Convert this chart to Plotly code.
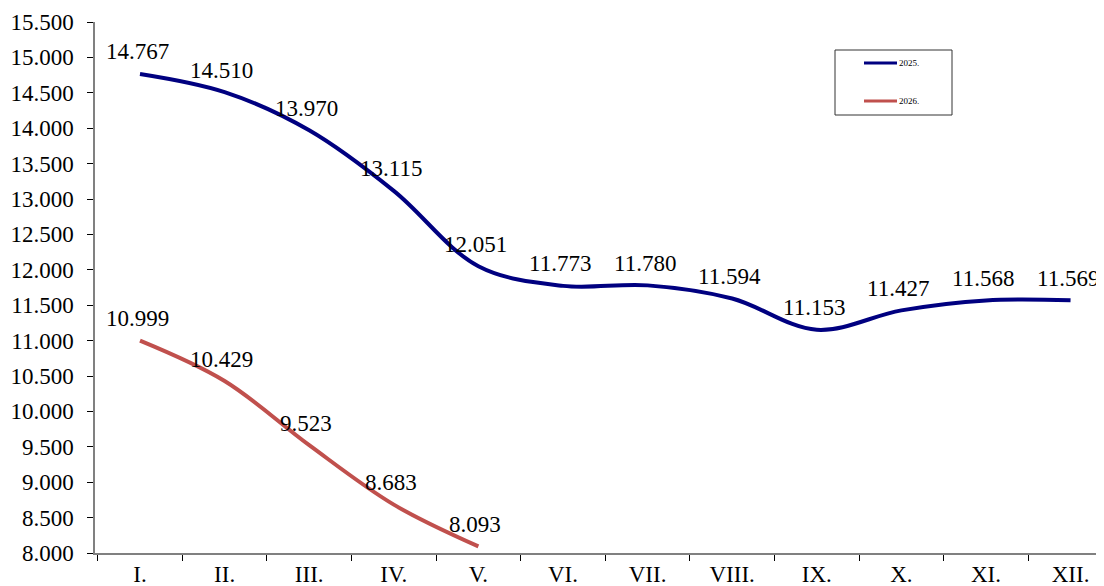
import plotly.graph_objects as go

months = ["I.", "II.", "III.", "IV.", "V.", "VI.", "VII.", "VIII.", "IX.", "X.", "XI.", "XII."]
y2025 = [14767, 14510, 13970, 13115, 12051, 11773, 11780, 11594, 11153, 11427, 11568, 11569]
y2026 = [10999, 10429, 9523, 8683, 8093]
series_names = ["2025.", "2026."]
series_colors = ["#000080", "#C0504D"]

font_family = "Liberation Serif, Times New Roman, serif"
FS = 23

W, H = 1104, 586
OFF = 8  # page body margin offset in the screenshot
ML, MR, MT, MB = 87, 0, 14, 41
PW, PH = W - ML - MR, H - MT - MB


def px_x(sx):
    return (sx - OFF - ML) / PW


def px_y(sy):
    return (H - MB - (sy - OFF)) / PH


def fmt(v):
    return f"{v:,}".replace(",", ".")


fig = go.Figure()
annotations = []
for name, vals, col in zip(series_names, [y2025, y2026], series_colors):
    xs = months[:len(vals)]
    fig.add_trace(go.Scatter(
        x=xs, y=vals, name=name, mode="lines",
        line=dict(color=col, width=4, shape="spline", smoothing=1),
        showlegend=False,
    ))
    for xv, yv in zip(xs, vals):
        annotations.append(dict(x=xv, y=yv, xref="x", yref="y", text=fmt(yv),
                                showarrow=False, xanchor="center", yanchor="middle",
                                yshift=22, xshift=-3,
                                font=dict(size=FS, family=font_family, color="black")))

# boxed legend as in the reference
shapes = [dict(type="rect", xref="paper", yref="paper",
               x0=px_x(835), x1=px_x(952), y0=px_y(115), y1=px_y(50),
               line=dict(color="#333333", width=1), fillcolor="white", layer="above")]
for i, (name, col) in enumerate(zip(series_names, series_colors)):
    yy = 63 + i * 38
    shapes.append(dict(type="line", xref="paper", yref="paper",
                       x0=px_x(864), x1=px_x(897), y0=px_y(yy), y1=px_y(yy),
                       line=dict(color=col, width=3), layer="above"))
    annotations.append(dict(xref="paper", yref="paper", x=px_x(897), y=px_y(yy),
                            text=name, showarrow=False, xanchor="left", yanchor="middle",
                            font=dict(size=9, family=font_family, color="black")))

fig.update_layout(
    width=W, height=H,
    margin=dict(l=ML, r=MR, t=MT, b=MB, autoexpand=False),
    paper_bgcolor="white", plot_bgcolor="white",
    separators=",.",
    font=dict(family=font_family, size=FS, color="black"),
    showlegend=False,
    shapes=shapes, annotations=annotations,
    xaxis=dict(
        type="category", range=[-0.532, 11.49], automargin=False,
        tickson="boundaries", ticks="outside", ticklen=6, tickcolor="black",
        showline=True, linecolor="#808080", linewidth=1.5,
        showgrid=False, zeroline=False, ticklabelstandoff=0,
        tickfont=dict(size=FS, family=font_family),
    ),
    yaxis=dict(
        range=[8000, 15500], dtick=500, tick0=8000, tickformat=",d", automargin=False,
        ticks="outside", ticklen=6, tickcolor="black",
        showline=True, linecolor="#808080", linewidth=1.5,
        showgrid=False, zeroline=False, ticklabelstandoff=9,
        tickfont=dict(size=FS, family=font_family),
    ),
)

fig.write_html("out.html")
